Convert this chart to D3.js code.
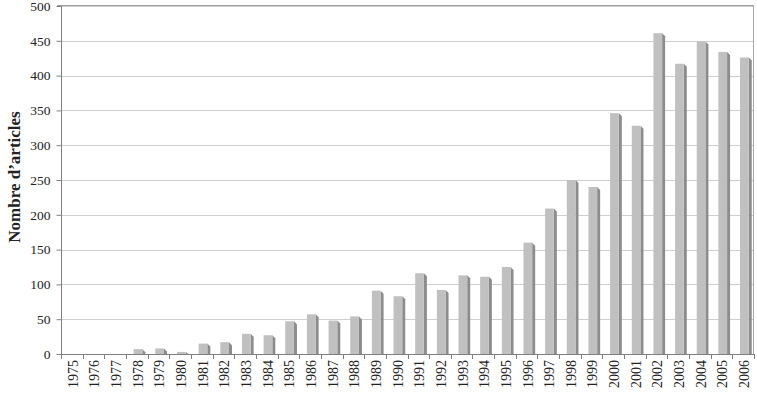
<!DOCTYPE html>
<html>
<head>
<meta charset="utf-8">
<script src="https://cdn.jsdelivr.net/npm/d3@7"></script>
<style>
  body { margin: 0; background: #fff; }
  text { font-family: "Liberation Serif", "Times New Roman", serif; fill: #222; }
</style>
</head>
<body>
<svg width="757" height="394"></svg>
<script>
// years on the x axis
var years = ['1975','1976','1977','1978','1979','1980','1981','1982','1983','1984',
             '1985','1986','1987','1988','1989','1990','1991','1992','1993','1994',
             '1995','1996','1997','1998','1999','2000','2001','2002','2003','2004',
             '2005','2006']
// number of articles per year
var articles = [0, 0, 0, 7, 8, 3, 15, 17, 29, 27,
                47, 57, 48, 54, 91, 83, 116, 92, 113, 111,
                125, 160, 209, 250, 240, 346, 328, 461, 417, 449,
                434, 426]
var yTicks = [0, 50, 100, 150, 200, 250, 300, 350, 400, 450, 500]

var pl = 62, pr = 755, pt = 6, pb = 354

var svg = d3.select('svg')

var x = d3.scaleBand()
    .domain(years)
    .range([pl, pr])
    .padding(0)

var y = d3.scaleLinear()
    .domain([0, 500])
    .range([pb, pt])

// grid lines
svg.append('g')
    .selectAll('line')
    .data(yTicks.slice(1))
    .enter().append('line')
    .attr('x1', pl).attr('x2', pr - 1)
    .attr('y1', function(d){ return Math.round(y(d)) + 0.5 })
    .attr('y2', function(d){ return Math.round(y(d)) + 0.5 })
    .style('stroke', '#cfcfcf')
    .style('stroke-width', 1)

// frame right side
svg.append('line')
    .attr('x1', pr - 1.5).attr('x2', pr - 1.5)
    .attr('y1', pt - 0.5).attr('y2', pb)
    .style('stroke', '#a8a8a8')

// bars: front face and dark side face
var bw = 8.7, side = 3
var bars = svg.append('g')
    .selectAll('g')
    .data(articles)
    .enter().append('g')

bars.append('path')
    .attr('d', function(d, i){
        var x1 = x(years[i]) + 6.7 + bw
        var yt = y(d)
        if (d == 0) return ''
        return 'M' + x1 + ',' + yt + 'L' + (x1 + side) + ',' + Math.min(yt + side, pb) +
               'L' + (x1 + side) + ',' + pb + 'L' + x1 + ',' + pb + 'Z'
    })
    .style('fill', '#8c8c8c')

bars.append('rect')
    .attr('x', function(d, i){ return x(years[i]) + 6.7 })
    .attr('y', function(d){ return y(d) })
    .attr('width', bw)
    .attr('height', function(d){ return pb - y(d) })
    .style('fill', '#c0c0c0')

// y axis
var yAxis = d3.axisLeft(y)
    .tickValues(yTicks)
    .tickSize(5)
    .tickPadding(6)
svg.append('g')
    .attr('transform', 'translate(' + (pl - 0.5) + ',0)')
    .call(yAxis)
    .call(function(g){
        g.select('.domain').style('stroke', '#808080').attr('d', 'M0,' + (pt - 0.5) + 'V' + pb)
        g.selectAll('.tick line').style('stroke', '#808080')
        g.selectAll('.tick text').style('font-size', '13.5px').style('font-family', '"Liberation Serif", serif').style('fill', '#222')
    })

// top frame line
svg.append('line')
    .attr('x1', pl - 5).attr('x2', pr - 1)
    .attr('y1', pt - 0.5).attr('y2', pt - 0.5)
    .style('stroke', '#a0a0a0')

// x axis
svg.append('line')
    .attr('x1', pl - 0.5).attr('x2', pr)
    .attr('y1', pb + 0.5).attr('y2', pb + 0.5)
    .style('stroke', '#808080')

svg.append('g')
    .selectAll('line')
    .data(years.concat(['end']))
    .enter().append('line')
    .attr('x1', function(d, i){ return Math.round(pl + i * x.bandwidth()) - 0.5 })
    .attr('x2', function(d, i){ return Math.round(pl + i * x.bandwidth()) - 0.5 })
    .attr('y1', pb)
    .attr('y2', pb + 5)
    .style('stroke', '#808080')

svg.append('g')
    .selectAll('text')
    .data(years)
    .enter().append('text')
    .attr('transform', function(d){
        return 'translate(' + (x(d) + x.bandwidth() / 2) + ',' + (pb + 6) + ') rotate(-90)'
    })
    .attr('dy', '0.35em')
    .attr('text-anchor', 'end')
    .style('font-size', '14px')
    .text(function(d){ return d })

// y axis title
svg.append('text')
    .attr('transform', 'translate(14,' + 177 + ') rotate(-90)')
    .attr('text-anchor', 'middle')
    .attr('dy', '0.35em')
    .style('font-size', '17px')
    .style('font-weight', 'bold')
    .text('Nombre d\u2019articles')
</script>
</body>
</html>
